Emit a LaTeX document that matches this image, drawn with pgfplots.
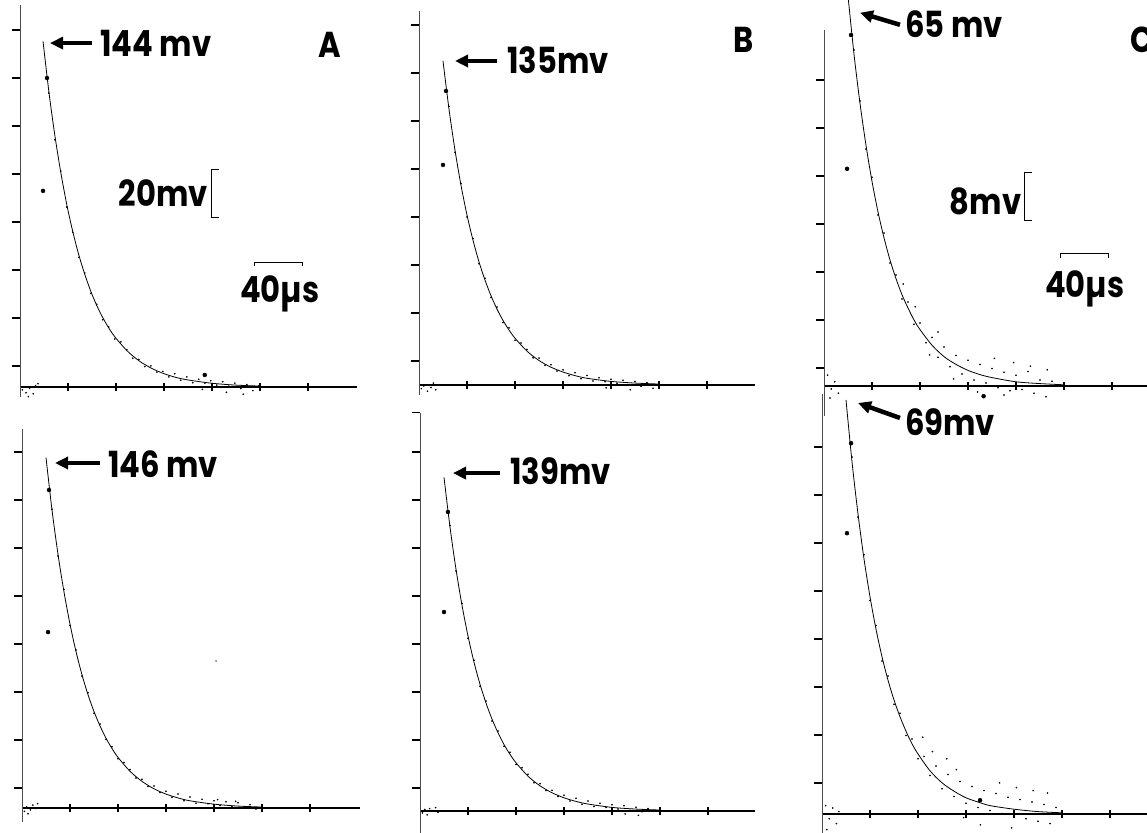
\documentclass[border=0pt]{standalone}
\usepackage{fontspec}
\usepackage{graphicx}
\usepackage{pgfplots}
\pgfplotsset{compat=1.18}
\usetikzlibrary{arrows.meta}
\newfontfamily\lab{Poppins}
\newcommand\Lbl[1]{\scalebox{0.85}[1]{\lab\bfseries\fontsize{36}{40}\selectfont #1}}
\pgfplotsset{
 panel/.style={
  anchor=south west, scale only axis, clip=false, enlargelimits=false,
  axis x line=middle, axis y line=left,
  x axis line style={-, line width=1.1pt, black},
  y axis line style={-, line width=0.7pt, black!70},
  xtick align=center, ytick align=outside,
  major tick length=8pt,
  tick style={black, line width=1.5pt},
  xticklabels={}, yticklabels={},
  x=1.2pt, xmin=0, xtick={40,80,120,160,200,240},
 }}
\tikzset{
 fit/.style={black, line width=0.8pt, smooth},
 noise/.style={only marks, mark=*, mark size=0.6pt, black},
 bigdot/.style={only marks, mark=*, mark size=2pt, black},
 arr/.style={-{Triangle[length=13pt,width=12pt]}, line width=4.5pt},
 bar/.style={line width=1pt},
}
\begin{document}
\begin{tikzpicture}[x=1pt,y=1pt]
\useasboundingbox (0,0) rectangle (1147,832);
\clip (0,0) rectangle (1147,832);

% ---------------- A top ----------------
\begin{axis}[panel, at={(20pt,435.4pt)}, y=2.4pt, ymin=-4, ymax=159, xmax=281,
  ytick={8.75,28.75,48.75,68.75,88.75,108.75,128.75,148.75}]
\addplot[fit] coordinates {(19.2,144) (24.2,122.5) (29.2,104.3) (34.2,88.8) (39.2,75.5) (44.2,64.3) (49.2,54.7) (54.2,46.6) (59.2,39.6) (64.2,33.7) (69.2,28.7) (74.2,24.4) (79.2,20.8) (89.2,15.1) (99.2,10.9) (109.2,7.9) (119.2,5.7) (129.2,4.1) (139.2,3.0) (159.2,1.6) (179.2,0.8) (199.2,0.4)};
\addplot[noise] coordinates {(24,122.5)(29,103)(34,90)(39,75)(44,64.5)(49,54)(54,47.5)(59,39)(64,34.5)(69,28)(74,25)(79,20)(84,18.8)(89,15.5)(94,12)(99,11.5)(104,8.5)(109,8.8)(114,6.2)(119,6.5)(124,4.2)(129,5.5)(134,2.8)(139,4.2)(144,1.8)(149,3.2)(154,1.6)(159,2.6)(164,0.8)(169,2.2)(174,0.3)(179,1.6)(184,-0.6)(189,1.0)(194,-1.5)(199,0.4)(172,-2.2)(152,-1.0)(186,-3)(2,-1.2)(5,-2.4)(8,-0.6)(11,-2.8)(13,0.6)(15,1.4)(7,-4)};
\addplot[bigdot] coordinates {(19.2,81.7) (22.5,128.75) (154,5)};
\draw[arr] (axis cs:60,143.3) -- (axis cs:25,143.3);
\node[anchor=west, inner sep=0] at (axis cs:66.7,143.3) {\Lbl{144 mv}};
\node[inner sep=0] at (axis cs:258.3,142.5) {\Lbl{A}};
\node[anchor=east, inner sep=0] at (axis cs:156.7,80.8) {\Lbl{20mv}};
\draw[bar] ([xshift=8pt]axis cs:159.2,90.8) -- (axis cs:159.2,90.8) -- (axis cs:159.2,70.8) -- ([xshift=8pt]axis cs:159.2,70.8);
\node[anchor=base west, inner sep=0] at (axis cs:183.3,35.4) {\Lbl{40µs}};
\draw[bar] ([yshift=-4pt]axis cs:195.8,52) -- (axis cs:195.8,52) -- (axis cs:235.8,52) -- ([yshift=-4pt]axis cs:235.8,52);
\end{axis}

% ---------------- B top ----------------
\begin{axis}[panel, at={(419pt,437.4pt)}, y=2.4pt, ymin=-4, ymax=156, xmax=280,
  ytick={10,30,50,70,90,110,130,150}]
\addplot[fit] coordinates {(20,135) (25,114.9) (30,97.8) (35,83.2) (40,70.8) (45,60.3) (50,51.3) (55,43.7) (60,37.2) (65,31.6) (70,26.9) (75,22.9) (80,19.5) (90,14.1) (100,10.2) (110,7.4) (120,5.4) (130,3.9) (140,2.8) (160,1.5) (180,0.8) (200,0.4)};
\addplot[noise] coordinates {(25,116)(30,97)(35,84)(40,70)(45,61)(50,50.5)(55,44.5)(60,36.5)(65,32.5)(70,26)(75,23.8)(80,18.6)(85,17.5)(90,14.8)(95,11.3)(100,11.2)(105,8.2)(110,8.4)(115,5.8)(120,6.3)(125,3.9)(130,5.1)(135,2.6)(140,4.0)(145,1.7)(150,3.0)(155,1.4)(160,2.4)(165,0.7)(170,2.0)(175,0.2)(180,1.5)(185,-0.5)(190,0.9)(195,-1.4)(176,-2.0)(156,-1.2)(2,-1.5)(4,-0.4)(7,-2.6)(10,-1.0)(12,0.8)(14,-2.0)};
\addplot[bigdot] coordinates {(20,91.7) (22.5,122.5)};
\draw[arr] (axis cs:65,135) -- (axis cs:30,135);
\node[anchor=west, inner sep=0] at (axis cs:73.3,135.4) {\Lbl{135mv}};
\node[inner sep=0] at (axis cs:270.8,143.75) {\Lbl{B}};
\end{axis}

% ---------------- C top ----------------
\begin{axis}[panel, at={(824pt,416pt)}, y=6pt, ymin=-5, ymax=59.3, xmax=275,
  ytick={3,11,19,27,35,43,51}]
\addplot[fit] coordinates {(20,65) (25,55.3) (30,47.1) (35,40.1) (40,34.1) (45,29.0) (50,24.7) (55,21.0) (60,17.9) (65,15.2) (70,13.0) (75,11.0) (80,9.4) (90,6.8) (100,4.9) (110,3.6) (120,2.6) (130,1.9) (140,1.4) (160,0.7) (180,0.4) (200,0.2)};
\addplot[noise] coordinates {(25,56)(30,47.5)(35,39.5)(40,34.8)(45,28.5)(50,25.5)(55,20.5)(60,18.5)(65,14.5)(70,14)(75,10.3)(80,10.5)(85,7.2)(90,8.1)(95,4.8)(100,6.5)(105,3.2)(110,5.1)(115,2.0)(120,4.3)(125,1.0)(130,3.6)(135,0.5)(140,2.9)(145,-0.3)(150,2.3)(155,-0.8)(160,1.8)(165,-0.6)(170,2.4)(175,-1.2)(180,1.0)(185,-1.8)(190,0.8)(142,4.6)(158,3.9)(172,3.3)(186,2.7)(128,-1.0)(150,-1.5)(120,-0.5)(108,1.2)(95,9.0)(88,5.2)(76,13.2)(66,17.0)(3,1.8)(6,-0.5)(9,0.7)(12,-1.2)(5,-2.0)};
\addplot[bigdot] coordinates {(19.2,36.2) (22.5,58.5) (133,-1.7)};
\draw[arr] (axis cs:63.3,60.2) -- (axis cs:30,62.2);
\node[anchor=west, inner sep=0] at (axis cs:67.5,60.3) {\Lbl{65 mv}};
\node[anchor=west, inner sep=0] at (axis cs:255,57.7) {\Lbl{C}};
\node[anchor=east, inner sep=0] at (axis cs:164.5,30.7) {\Lbl{8mv}};
\draw[bar] ([xshift=8pt]axis cs:166.7,35.5) -- (axis cs:166.7,35.5) -- (axis cs:166.7,27.5) -- ([xshift=8pt]axis cs:166.7,27.5);
\node[anchor=base west, inner sep=0] at (axis cs:184.2,14.8) {\Lbl{40µs}};
\draw[bar] ([yshift=-4pt]axis cs:196.7,22) -- (axis cs:196.7,22) -- (axis cs:236.7,22) -- ([yshift=-4pt]axis cs:236.7,22);
\end{axis}

% ---------------- A bottom ----------------
\begin{axis}[panel, at={(22pt,9.6pt)}, y=2.4pt, ymin=-6, ymax=158, xmax=282,
  ytick={8.3,28.3,48.3,68.3,88.3,108.3,128.3,148.3}]
\addplot[fit] coordinates {(20,146) (25,124.2) (30,105.7) (35,90.0) (40,76.6) (45,65.2) (50,55.5) (55,47.2) (60,40.2) (65,34.2) (70,29.1) (75,24.8) (80,21.1) (90,15.3) (100,11.1) (110,8.0) (120,5.8) (130,4.2) (140,3.0) (160,1.6) (180,0.8) (200,0.4)};
\addplot[noise] coordinates {(25,124.5)(30,105)(35,91)(40,76)(45,65.8)(50,55)(55,48)(60,39.5)(65,35)(70,28.5)(75,25.5)(80,20.5)(85,19)(90,16)(95,12.5)(100,12)(105,9)(110,9.2)(115,6.5)(120,7)(125,4.5)(130,5.8)(135,3)(140,4.6)(145,2)(150,3.6)(155,1.8)(160,3)(165,1)(170,2.6)(175,0.5)(180,2.2)(185,0.2)(190,1.4)(195,-0.4)(200,0.8)(163,3.5)(178,2.8)(2,-1.4)(4,0.4)(7,-0.8)(9,1.2)(11,-0.2)(13,1.8)(5,-2.4)};
\addplot[bigdot] coordinates {(21.7,73.3) (22.5,132.5)};
\addplot[only marks, mark=*, mark size=0.7pt, black!50] coordinates {(161.7,61.25)};
\draw[arr] (axis cs:65,143.75) -- (axis cs:27.5,143.75);
\node[anchor=west, inner sep=0] at (axis cs:71.7,143.3) {\Lbl{146 mv}};
\end{axis}

% ---------------- B bottom ----------------
\begin{axis}[panel, at={(420pt,-0.6pt)}, y=2.4pt, ymin=-9, ymax=166, xmax=279,
  ytick={9.6,29.6,49.6,69.6,89.6,109.6,129.6,149.6,166}]
\addplot[fit] coordinates {(20,139) (25,118.3) (30,100.7) (35,85.7) (40,72.9) (45,62.0) (50,52.8) (55,45.0) (60,38.3) (65,32.6) (70,27.7) (75,23.6) (80,20.1) (90,14.5) (100,10.5) (110,7.6) (120,5.5) (130,4.0) (140,2.9) (160,1.5) (180,0.8) (200,0.4)};
\addplot[noise] coordinates {(25,119)(30,100)(35,86.5)(40,72)(45,62.8)(50,52)(55,45.8)(60,37.5)(65,33.3)(70,27)(75,24.5)(80,19.4)(85,18)(90,15.3)(95,11.8)(100,11.4)(105,8.5)(110,8.6)(115,6)(120,6.6)(125,4.2)(130,5.3)(135,2.8)(140,4.2)(145,1.9)(150,3.2)(155,1.5)(160,2.6)(165,0.8)(170,2.2)(175,0.3)(180,1.6)(185,-0.3)(190,1.0)(182,-1.8)(171,-1.2)(2,-0.8)(4,0.6)(6,-1.6)(8,1.0)(10,0.2)(13,1.4)(15,-0.5)};
\addplot[bigdot] coordinates {(20,82.9) (23.3,124.6)};
\draw[arr] (axis cs:66.7,140.8) -- (axis cs:27.5,140.8);
\node[anchor=west, inner sep=0] at (axis cs:75,141.7) {\Lbl{139mv}};
\end{axis}

% ---------------- C bottom ----------------
\begin{axis}[panel, at={(822pt,-6pt)}, y=6pt, ymin=-4, ymax=70, xmax=275,
  ytick={5.17,13.17,21.17,29.17,37.17,45.17,53.17,61.17}]
\addplot[fit] coordinates {(20,69) (25,58.7) (30,50.0) (35,42.5) (40,36.2) (45,30.8) (50,26.2) (55,22.3) (60,19.0) (65,16.2) (70,13.8) (75,11.7) (80,10.0) (90,7.2) (100,5.2) (110,3.8) (120,2.7) (130,2.0) (140,1.4) (160,0.8) (180,0.4) (200,0.2)};
\addplot[noise] coordinates {(25,59.5)(30,49.5)(35,43.2)(40,35.6)(45,31.4)(50,25.5)(55,23)(60,18.3)(65,16.8)(70,13.1)(75,12.5)(80,9.2)(85,9.6)(90,6.4)(95,8.0)(100,4.2)(105,6.6)(110,2.9)(115,5.4)(120,1.8)(125,4.6)(130,1.1)(135,3.9)(140,0.6)(145,3.4)(150,0.1)(155,2.8)(160,-0.4)(165,2.4)(170,-0.8)(175,2.0)(180,-1.2)(185,1.6)(190,-1.6)(195,1.1)(148,5.2)(162,4.4)(176,3.9)(188,3.5)(132,-1.8)(118,-0.6)(104,9.2)(92,10.4)(84,12.8)(112,7.4)(158,-2.3)(3,1.4)(6,-0.8)(9,1.0)(12,-1.6)(4,-2.6)(14,0.4)};
\addplot[bigdot] coordinates {(20.8,46.8) (24.2,61.8) (131.7,2.3)};
\draw[arr] (axis cs:65,66) -- (axis cs:30,68.5);
\node[anchor=west, inner sep=0] at (axis cs:69.2,65.3) {\Lbl{69mv}};
\end{axis}
\end{tikzpicture}
\end{document}
